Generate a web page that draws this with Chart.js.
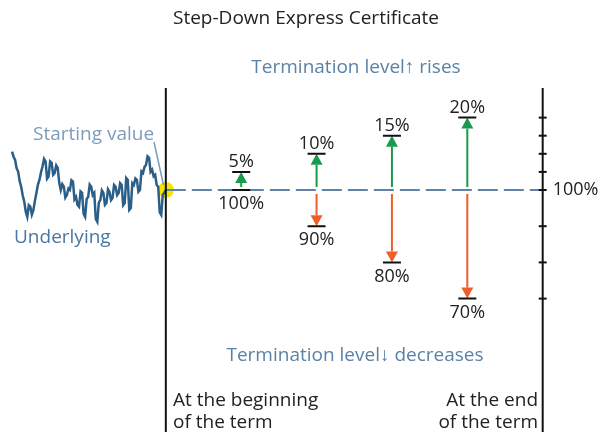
<!DOCTYPE html>
<html>
<head>
<meta charset="utf-8">
<script src="https://cdn.jsdelivr.net/npm/chart.js@4.4.1/dist/chart.umd.min.js"></script>
<style>
  body { margin: 0; background: #fff; }
  canvas { display: block; }
</style>
</head>
<body>
<canvas id="stepdown" width="606" height="432"></canvas>
<script>
// observation dates (term runs 0..5), termination levels in % of the starting value
const obsDates = [1, 2, 3, 4];
const upLevels = [105, 110, 115, 120];
const downLevels = [100, 90, 80, 70];
const upLabels = ['5%', '10%', '15%', '20%'];
const downLabels = ['100%', '90%', '80%', '70%'];
const axisTicks = [120, 115, 110, 105, 100, 90, 80, 70];
const startLevel = 100;

// underlying history before the start (in % of the starting value)
const underlying = [110.6, 109.2, 108.3, 106.0, 105.1, 102.4, 100.9, 98.5, 96.8, 94.0, 92.6, 95.8, 95.4, 93.2, 94.4, 97.0,
  99.2, 101.5, 102.8, 104.9, 106.5, 108.6, 107.9, 103.1, 103.7, 107.9, 107.5, 104.2, 104.7, 106.8, 106.1, 102.0,
  100.0, 101.6, 100.9, 97.9, 98.6, 100.4, 100.0, 102.7, 102.3, 97.4, 98.1, 95.9, 95.4, 99.6, 99.2, 93.4, 92.6,
  97.5, 98.1, 101.5, 100.9, 98.6, 99.2, 92.0, 91.2, 96.5, 97.2, 99.9, 99.2, 95.9, 96.4, 100.2, 99.5, 97.2, 97.8,
  101.4, 100.9, 98.6, 99.2, 101.9, 101.4, 95.8, 96.4, 103.3, 102.8, 94.5, 95.0, 101.9, 101.4, 103.2, 102.8, 99.5,
  100.0, 105.1, 104.7, 106.4, 106.9, 109.3, 108.9, 105.0, 105.6, 103.8, 104.2, 101.4, 100.9, 93.8, 93.1, 98.7,
  99.2, 100.0];
const historyStart = -2.04;

const font = '"Open Sans", sans-serif';
const green = '#179b4d';
const orange = '#ee5e2a';

const histStep = -historyStart / (underlying.length - 1);
const underlyingPts = underlying.map((v, i) => ({ x: historyStart + i * histStep, y: v }));

function arrow(ctx, px, from, to, color) {
  const dir = to < from ? 1 : -1; // 1 = pointing up
  const head = 11;
  ctx.strokeStyle = color;
  ctx.fillStyle = color;
  ctx.lineWidth = 2;
  ctx.beginPath();
  ctx.moveTo(px, from);
  ctx.lineTo(px, to + dir * head);
  ctx.stroke();
  ctx.beginPath();
  ctx.moveTo(px, to);
  ctx.lineTo(px - 6, to + dir * head);
  ctx.lineTo(px + 6, to + dir * head);
  ctx.closePath();
  ctx.fill();
}

const diagram = {
  id: 'diagram',
  afterDatasetsDraw(chart) {
    const { ctx, scales: { x, y } } = chart;
    const x0 = x.getPixelForValue(0);
    const x5 = x.getPixelForValue(5);
    const y0 = y.getPixelForValue(startLevel);
    ctx.save();

    // term boundaries
    ctx.strokeStyle = '#111';
    ctx.lineWidth = 2;
    ctx.beginPath();
    ctx.moveTo(x0, 88); ctx.lineTo(x0, 432);
    ctx.moveTo(x5, 88); ctx.lineTo(x5, 432);
    ctx.stroke();

    // right hand level axis
    axisTicks.forEach(t => {
      const py = y.getPixelForValue(t);
      ctx.beginPath();
      ctx.moveTo(x5 - 4, py); ctx.lineTo(x5 + 4, py);
      ctx.stroke();
    });

    // arrows + level bars
    ctx.font = '18px ' + font;
    ctx.textAlign = 'center';
    obsDates.forEach((d, i) => {
      const px = x.getPixelForValue(d);
      const pu = y.getPixelForValue(upLevels[i]);
      const pd = y.getPixelForValue(downLevels[i]);
      arrow(ctx, px, y0 - 3, pu, green);
      if (downLevels[i] < startLevel) arrow(ctx, px, y0 + 4, pd, orange);
      ctx.strokeStyle = '#111';
      ctx.lineWidth = 2;
      ctx.beginPath();
      ctx.moveTo(px - 9, pu); ctx.lineTo(px + 9, pu);
      ctx.moveTo(px - 9, pd); ctx.lineTo(px + 9, pd);
      ctx.stroke();
      ctx.fillStyle = '#222';
      ctx.textBaseline = 'bottom';
      ctx.fillText(upLabels[i], px, pu - 1);
      ctx.textBaseline = 'top';
      ctx.fillText(downLabels[i], px, pd + 5);
    });

    ctx.textAlign = 'left';
    ctx.textBaseline = 'middle';
    ctx.fillText('100%', x5 + 10, y0);

    // pointer to the starting value
    ctx.strokeStyle = '#7c9cbb';
    ctx.lineWidth = 1.5;
    ctx.beginPath();
    ctx.moveTo(154, 142); ctx.lineTo(163.5, 185);
    ctx.stroke();

    ctx.font = '19px ' + font;
    ctx.fillStyle = '#222';
    ctx.textAlign = 'center';
    ctx.fillText('Step-Down Express Certificate', 306, 19);

    ctx.fillStyle = '#5a82a6';
    ctx.fillText('Termination level\u2191 rises', 356, 68);
    ctx.fillText('Termination level\u2193 decreases', 355, 356);

    ctx.textAlign = 'left';
    ctx.fillStyle = '#7c9cbb';
    ctx.fillText('Starting value', 33, 135);
    ctx.fillStyle = '#4a77a0';
    ctx.fillText('Underlying', 14, 238);

    ctx.fillStyle = '#222';
    ctx.fillText('At the beginning', 173, 401);
    ctx.fillText('of the term', 173, 423);
    ctx.textAlign = 'right';
    ctx.fillText('At the end', 538, 401);
    ctx.fillText('of the term', 538, 423);
    ctx.restore();
  }
};

new Chart(document.getElementById('stepdown'), {
  type: 'scatter',
  data: {
    datasets: [
      {
        label: 'Underlying',
        data: underlyingPts,
        showLine: true,
        borderColor: '#2b5f88',
        borderWidth: 2.5,
        pointRadius: 0,
        tension: 0
      },
      {
        label: 'Starting value',
        data: [{ x: 0, y: startLevel }, { x: 5, y: startLevel }],
        showLine: true,
        borderColor: '#5f84a8',
        borderWidth: 2,
        borderDash: [20, 6],
        pointRadius: 0
      },
      {
        label: 'Start',
        data: [{ x: 0, y: startLevel }],
        pointRadius: 8,
        pointBackgroundColor: '#f7e400',
        pointBorderWidth: 0
      }
    ]
  },
  options: {
    responsive: false,
    animation: false,
    layout: { padding: 0, autoPadding: false },
    plugins: { legend: { display: false }, tooltip: { enabled: false } },
    scales: {
      x: { type: 'linear', min: -2.2, max: 5.84, display: false },
      y: { type: 'linear', min: 33.15, max: 152.49, display: false }
    }
  },
  plugins: [diagram]
});
</script>
</body>
</html>
